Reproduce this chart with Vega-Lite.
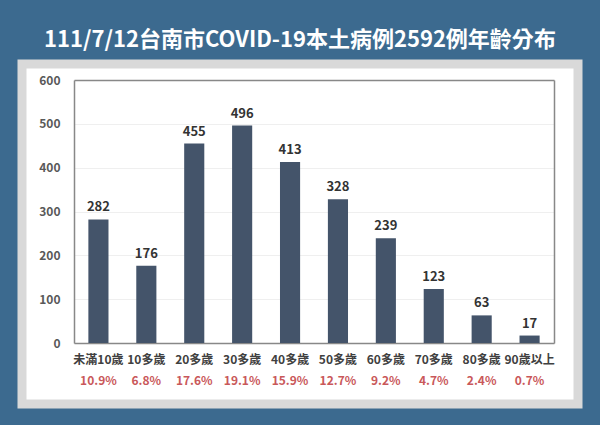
{
  "$schema": "https://vega.github.io/schema/vega-lite/v6.json",
  "width": 556,
  "height": 340,
  "autosize": {"type": "none"},
  "padding": {"left": 22, "top": 64, "right": 22, "bottom": 21},
  "background": "#3c6a8f",
  "title": {
    "text": "111/7/12台南市COVID-19本土病例2592例年齡分布",
    "color": "#ffffff",
    "fontSize": 22,
    "fontWeight": "bold",
    "font": "Noto Sans CJK TC",
    "anchor": "middle",
    "offset": 12
  },
  "config": {
    "font": "Noto Sans CJK TC",
    "view": {"fill": "#ffffff", "stroke": "#d9d9d9", "strokeWidth": 9}
  },
  "data": {
    "values": [
      {"group": "未滿10歲|10.9%", "count": 282},
      {"group": "10多歲|6.8%", "count": 176},
      {"group": "20多歲|17.6%", "count": 455},
      {"group": "30多歲|19.1%", "count": 496},
      {"group": "40多歲|15.9%", "count": 413},
      {"group": "50多歲|12.7%", "count": 328},
      {"group": "60多歲|9.2%", "count": 239},
      {"group": "70多歲|4.7%", "count": 123},
      {"group": "80多歲|2.4%", "count": 63},
      {"group": "90歲以上|0.7%", "count": 17}
    ]
  },
  "resolve": {"axis": {"x": "independent", "y": "independent"}},
  "layer": [
    {
      "mark": {"type": "bar", "color": "#44546a"},
      "encoding": {
        "x": {
          "field": "group", "type": "nominal", "sort": null,
          "scale": {"range": [52, 532], "paddingInner": 0.58, "paddingOuter": 0.3},
          "axis": {
            "orient": "bottom", "title": null, "offset": -61,
            "labelExpr": "split(datum.label, '|')[0]",
            "labelAngle": 0, "labelFontSize": 12, "labelFontWeight": "bold",
            "labelColor": "#404040", "labelPadding": 11,
            "ticks": false, "domainColor": "#888888", "domainWidth": 1.5,
            "grid": false
          }
        },
        "y": {
          "field": "count", "type": "quantitative",
          "scale": {"domain": [0, 600], "range": [279, 16], "nice": false},
          "axis": {
            "orient": "left", "title": null, "offset": -52,
            "values": [0, 100, 200, 300, 400, 500, 600],
            "labelFontSize": 12, "labelFontWeight": "bold", "labelColor": "#595959",
            "labelPadding": 14, "ticks": false,
            "domainColor": "#888888", "domainWidth": 1.5,
            "grid": true,
            "gridColor": {"condition": {"test": "datum.value === 600", "value": "#888888"}, "value": "#efefef"},
            "gridWidth": {"condition": {"test": "datum.value === 600", "value": 1.5}, "value": 1}
          }
        }
      }
    },
    {
      "mark": {"type": "text", "dy": -8, "baseline": "alphabetic", "fontSize": 13, "fontWeight": "bold", "color": "#333333"},
      "encoding": {
        "x": {
          "field": "group", "type": "nominal", "sort": null,
          "scale": {"range": [52, 532], "paddingInner": 0.58, "paddingOuter": 0.3},
          "axis": {
            "orient": "bottom", "title": null, "offset": -61,
            "labelExpr": "split(datum.label, '|')[1]",
            "labelAngle": 0, "labelFontSize": 12, "labelFontWeight": "bold",
            "labelColor": "#c9585a", "labelPadding": 32,
            "ticks": false, "domain": false, "grid": false
          }
        },
        "y": {
          "field": "count", "type": "quantitative",
          "scale": {"domain": [0, 600], "range": [279, 16], "nice": false},
          "axis": {
            "orient": "right", "title": null, "offset": -24,
            "labels": false, "ticks": false, "grid": false,
            "domainColor": "#888888", "domainWidth": 1.5
          }
        },
        "text": {"field": "count", "type": "quantitative"}
      }
    }
  ]
}
